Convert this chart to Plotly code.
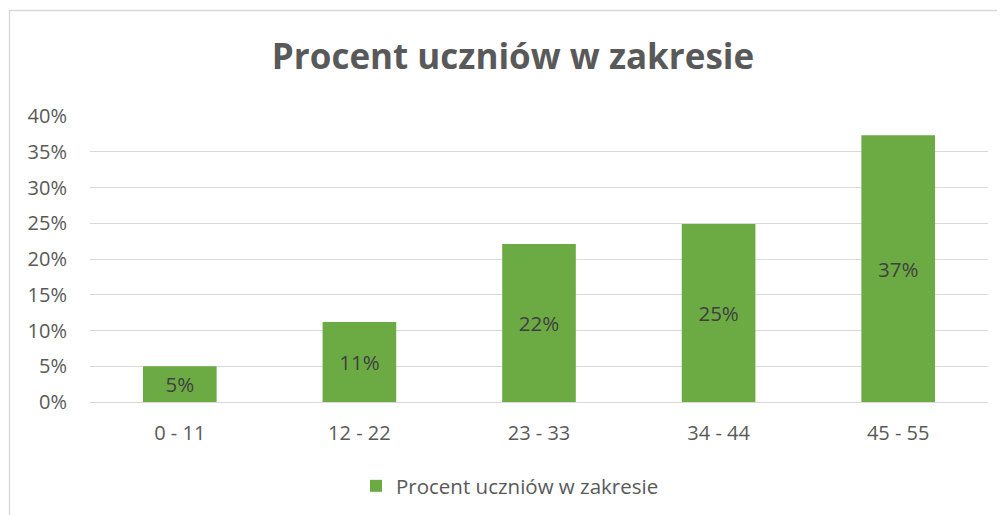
import plotly.graph_objects as go

categories = ["0 - 11", "12 - 22", "23 - 33", "34 - 44", "45 - 55"]
values = [0.05, 0.112, 0.221, 0.249, 0.373]
series_name = "Procent uczniów w zakresie"
title_text = "Procent uczniów w zakresie"

OFF = 8  # browser body margin
W, H = 1005 - OFF, 515 - OFF
L, R, T, B = 90 - OFF, 17, 116 - OFF, 113
pw, ph = W - L - R, H - T - B

def px_x(x):
    return (x - OFF - L) / pw

def px_y(y):
    return (H - B - (y - OFF)) / ph

FONT = "'Open Sans', Lato, sans-serif"

fig = go.Figure()
fig.add_trace(go.Bar(
    x=categories, y=values, name=series_name,
    marker=dict(color="#6cab44", line=dict(width=0)),
    texttemplate="%{y:.0%}", textposition="inside", insidetextanchor="middle",
    textfont=dict(color="#404040", size=20.5, family=FONT),
    showlegend=True,
))

fig.update_layout(
    width=W, height=H,
    margin=dict(l=L, r=R, t=T, b=B, autoexpand=False),
    paper_bgcolor="white", plot_bgcolor="white",
    title=dict(text="<b>" + title_text + "</b>", x=px_x(513), xanchor="center", xref="paper",
               y=1 - (57 - OFF) / H, yanchor="middle",
               font=dict(size=35, color="#595959", family=FONT)),
    bargap=0.59,
    font=dict(family=FONT, color="#595959", size=20),
    showlegend=True,
    legend=dict(orientation="h", x=px_x(510), xanchor="center", y=px_y(486), yanchor="middle",
                font=dict(size=20.5, color="#595959", family=FONT),
                itemwidth=30),
    xaxis=dict(showgrid=False, showline=False, ticks="", ticklabelstandoff=17,
               tickfont=dict(size=20, color="#595959")),
    yaxis=dict(range=[0, 0.40], dtick=0.05, tickformat=".0%", showgrid=True,
               gridcolor="#d9d9d9", gridwidth=1.3, zeroline=True, zerolinecolor="#d9d9d9",
               zerolinewidth=1.3, showline=False, ticks="", ticklabelstandoff=22,
               tickfont=dict(size=20, color="#595959")),
    shapes=[dict(type="rect", xref="paper", yref="paper",
                 x0=px_x(9.5), x1=px_x(1012), y0=px_y(525), y1=px_y(10.5),
                 line=dict(color="#d9d9d9", width=1.3), fillcolor="rgba(0,0,0,0)",
                 layer="below")],
)

fig.write_html("out.html")
